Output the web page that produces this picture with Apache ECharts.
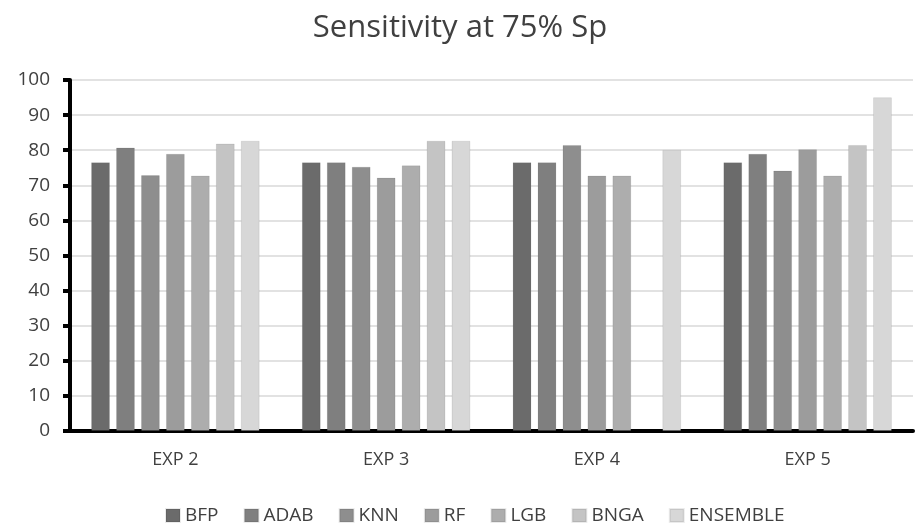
<!DOCTYPE html>
<html>
<head>
<meta charset="utf-8">
<script src="https://cdn.jsdelivr.net/npm/echarts@6/dist/echarts.min.js"></script>
<style>
  html, body { margin: 0; padding: 0; background: #fff; }
  #chart { width: 920px; height: 524px; }
</style>
</head>
<body>
<div id="chart"></div>
<script>
const categories = ['EXP 2', 'EXP 3', 'EXP 4', 'EXP 5'];
const seriesNames = ['BFP', 'ADAB', 'KNN', 'RF', 'LGB', 'BNGA', 'ENSEMBLE'];
const bfp = [76.6, 76.6, 76.6, 76.6];
const adab = [80.8, 76.6, 76.6, 79.0];
const knn = [72.9, 75.3, 81.5, 74.2];
const rf = [79.0, 72.2, 72.8, 80.3];
const lgb = [72.8, 75.7, 72.8, 72.8];
const bnga = [81.9, 82.7, null, 81.5];
const ensemble = [82.7, 82.7, 80.1, 95.1];
const seriesValues = [bfp, adab, knn, rf, lgb, bnga, ensemble];
const colors = ['#6b6b6b', '#7f7f7f', '#8e8e8e', '#9c9c9c', '#adadad', '#c4c4c4', '#d7d7d7'];

const chart = echarts.init(document.getElementById('chart'));
const font = '"Open Sans", "Liberation Sans", sans-serif';

chart.setOption({
  animation: false,
  title: {
    text: 'Sensitivity at 75% Sp',
    left: 'center',
    top: 8,
    textStyle: { fontFamily: font, fontSize: 31, fontWeight: 'normal', color: '#404040' }
  },
  legend: {
    top: 501,
    left: 160,
    itemWidth: 14,
    itemHeight: 13,
    itemGap: 25,
    icon: 'rect',
    textStyle: { fontFamily: font, fontSize: 19, color: '#404040' },
    data: seriesNames
  },
  grid: { left: 70, right: 7, top: 80, bottom: 93 },
  xAxis: {
    type: 'category',
    data: categories,
    axisLine: { lineStyle: { color: '#000', width: 4 } },
    axisTick: { show: false },
    axisLabel: { fontFamily: font, fontSize: 18, color: '#404040', margin: 20 }
  },
  yAxis: {
    type: 'value',
    min: 0,
    max: 100,
    interval: 10,
    axisLine: { show: true, lineStyle: { color: '#000', width: 4 } },
    axisTick: { show: true, length: 7, lineStyle: { color: '#000', width: 4 } },
    axisLabel: { fontFamily: font, fontSize: 19, color: '#404040', margin: 20 },
    splitLine: { lineStyle: { color: '#d9d9d9', width: 1.5 } }
  },
  series: seriesNames.map((name, i) => ({
    name: name,
    type: 'bar',
    data: seriesValues[i],
    barGap: '32%',
    barCategoryGap: '20%',
    itemStyle: { color: colors[i], borderColor: 'rgba(0,0,0,0.08)', borderWidth: 1 }
  }))
});
</script>
</body>
</html>
